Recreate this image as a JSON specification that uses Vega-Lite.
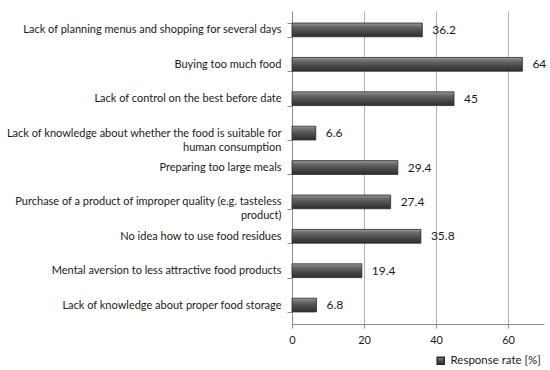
{
  "$schema": "https://vega.github.io/schema/vega-lite/v6.json",
  "width": 252,
  "height": 313,
  "padding": {"left": 5, "top": 5, "right": 5, "bottom": 5},
  "background": "white",
  "config": {
    "font": "Lato",
    "view": {"stroke": null},
    "axis": {"labelFont": "Lato", "labelFontSize": 11, "labelColor": "#1a1a1a", "domainColor": "#8c8c8c", "tickColor": "#8c8c8c", "gridColor": "#b0b0b0"}
  },
  "data": {
    "values": [
      {"cause": "Lack of planning menus and shopping for several days", "rate": 36.2, "series": "Response rate [%]"},
      {"cause": "Buying too much food", "rate": 64, "series": "Response rate [%]"},
      {"cause": "Lack of control on the best before date", "rate": 45, "series": "Response rate [%]"},
      {"cause": "Lack of knowledge about whether the food is suitable for human consumption", "rate": 6.6, "series": "Response rate [%]"},
      {"cause": "Preparing too large meals", "rate": 29.4, "series": "Response rate [%]"},
      {"cause": "Purchase of a product of improper quality (e.g. tasteless product)", "rate": 27.4, "series": "Response rate [%]"},
      {"cause": "No idea how to use food residues", "rate": 35.8, "series": "Response rate [%]"},
      {"cause": "Mental aversion to less attractive food products", "rate": 19.4, "series": "Response rate [%]"},
      {"cause": "Lack of knowledge about proper food storage", "rate": 6.8, "series": "Response rate [%]"}
    ]
  },
  "encoding": {
    "y": {
      "field": "cause", "type": "nominal", "sort": null, "title": null,
      "scale": {"paddingInner": 0.6, "paddingOuter": 0.35},
      "axis": {
        "labelLimit": 400, "labelPadding": 6, "tickSize": 5, "tickBand": "extent", "labelLineHeight": 14,
        "labelExpr": "datum.value == 'Lack of knowledge about whether the food is suitable for human consumption' ? ['Lack of knowledge about whether the food is suitable for', 'human consumption'] : datum.value == 'Purchase of a product of improper quality (e.g. tasteless product)' ? ['Purchase of a product of improper quality (e.g. tasteless', 'product)'] : datum.value"
      }
    },
    "x": {
      "field": "rate", "type": "quantitative", "title": null,
      "scale": {"domain": [0, 70], "nice": false},
      "axis": {"values": [0, 20, 40, 60], "grid": true, "tickSize": 4, "labelPadding": 6, "labelFlush": false}
    }
  },
  "layer": [
    {
      "mark": {
        "type": "bar",
        "strokeWidth": 0.8,
        "fill": {
          "gradient": "linear", "x1": 0, "y1": 0, "x2": 0, "y2": 1,
          "stops": [
            {"offset": 0, "color": "#9a9a9a"},
            {"offset": 0.25, "color": "#6a6a6a"},
            {"offset": 0.6, "color": "#4a4a4a"},
            {"offset": 1, "color": "#2e2e2e"}
          ]
        }
      },
      "encoding": {
        "stroke": {
          "field": "series", "type": "nominal", "title": null,
          "scale": {"range": ["#2a2a2a"]},
          "legend": {"orient": "none", "legendX": 143, "legendY": 344, "symbolType": "square", "symbolFillColor": "#555555", "symbolSize": 50, "labelFont": "Lato", "labelFontSize": 11.5, "labelColor": "#1a1a1a", "labelLimit": 200}
        }
      }
    },
    {
      "mark": {"type": "text", "align": "left", "dx": 10, "fontSize": 12, "font": "Lato", "color": "#1a1a1a"},
      "encoding": {"text": {"field": "rate", "type": "quantitative"}}
    }
  ]
}
